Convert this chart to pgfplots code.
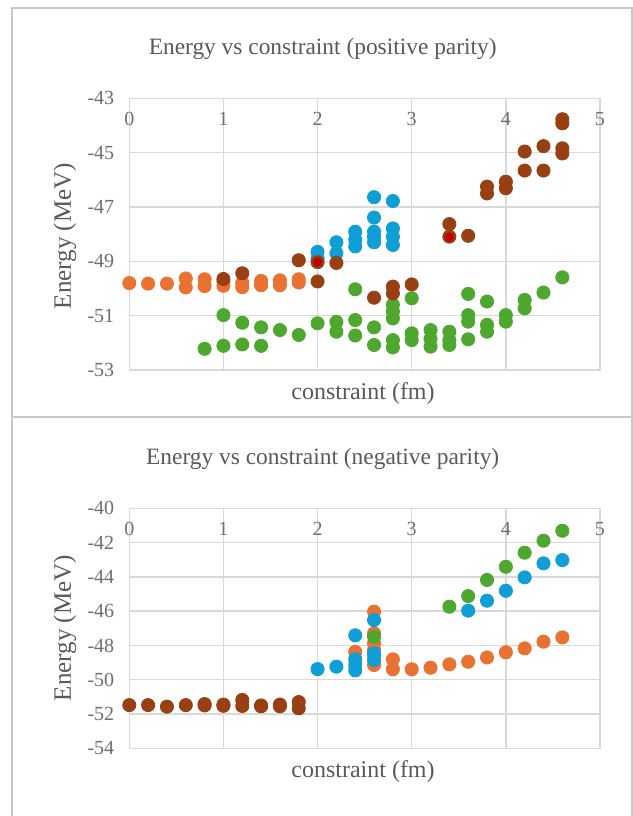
\documentclass[border=0pt]{standalone}
\usepackage{fontspec}
\setmainfont{Liberation Serif}
\usepackage{pgfplots}
\pgfplotsset{compat=1.18}

\definecolor{sorange}{HTML}{E97132}
\definecolor{sblue}{HTML}{0F9ED5}
\definecolor{sgreen}{HTML}{4EA72E}
\definecolor{sbrown}{HTML}{983F13}
\definecolor{sred}{HTML}{C00000}
\definecolor{gridgray}{HTML}{D9D9D9}
\definecolor{labelgray}{HTML}{595959}
\definecolor{ticklabelgray}{HTML}{6E6E6E}
\definecolor{framegray}{HTML}{C8C8C8}

\pgfplotsset{
  energy/.style={
    scale only axis,
    width=235.35pt,
    xmin=0, xmax=5,
    xtick={0,1,2,3,4,5},
    xticklabel pos=upper,
    major tick length=0pt,
    grid=major,
    grid style={draw=gridgray, line width=0.75pt},
    axis line style={draw=gridgray, line width=0.75pt},
    ticklabel style={font=\fontsize{10}{11}\selectfont, text=ticklabelgray},
    xticklabel style={anchor=center, yshift=-10.5pt},
    yticklabel style={xshift=-4pt},
    /pgf/number format/assume math mode=true,
  },
  dots/.style={only marks, mark=*, mark size=3.3pt, color=#1,
    mark options={draw=#1, fill=#1, line width=0.4pt}},
}

\begin{document}
\begin{tikzpicture}
% page area
\path[use as bounding box] (0pt,0pt) rectangle (316.5pt,-408pt);
% chart frames
\draw[framegray, line width=1pt] (6pt,-408pt) -- (6pt,-4pt) -- (316pt,-4pt) -- (316pt,-408pt);
\draw[framegray, line width=1pt] (6pt,-208.5pt) -- (316pt,-208.5pt);

% ---------- positive parity ----------
\begin{axis}[energy, at={(64.65pt,-185pt)}, anchor=south west,
  height=135.85pt, ymin=-53, ymax=-43, ytick={-53,-51,-49,-47,-45,-43}]
\addplot[dots=sorange] table {
0 -49.8
0.2 -49.82
0.4 -49.82
0.6 -49.63
0.6 -49.96
0.8 -49.66
0.8 -49.91
1.0 -49.75
1.0 -49.9
1.2 -49.8
1.2 -49.95
1.4 -49.72
1.4 -49.88
1.6 -49.7
1.6 -49.88
1.8 -49.66
1.8 -49.78
};
\addplot[dots=sblue] table {
2.0 -48.65
2.0 -48.9
2.2 -48.3
2.2 -48.7
2.4 -47.91
2.4 -48.2
2.4 -48.45
2.6 -46.64
2.6 -47.39
2.6 -47.91
2.6 -48.1
2.6 -48.3
2.8 -46.78
2.8 -47.79
2.8 -48.09
2.8 -48.4
};
\addplot[dots=sgreen] table {
0.8 -52.22
1.0 -50.98
1.0 -52.11
1.2 -51.26
1.2 -52.06
1.4 -51.43
1.4 -52.11
1.6 -51.53
1.8 -51.71
2.0 -51.28
2.2 -51.23
2.2 -51.59
2.4 -50.03
2.4 -51.16
2.4 -51.73
2.6 -51.43
2.6 -52.08
2.8 -50.6
2.8 -50.85
2.8 -51.1
2.8 -51.9
2.8 -52.17
3.0 -50.36
3.0 -51.65
3.0 -51.9
3.2 -51.53
3.2 -51.85
3.2 -52.14
3.4 -51.59
3.4 -51.9
3.4 -52.08
3.6 -50.2
3.6 -50.98
3.6 -51.22
3.6 -51.87
3.8 -50.48
3.8 -51.34
3.8 -51.59
4.0 -50.98
4.0 -51.22
4.2 -50.42
4.2 -50.73
4.4 -50.15
4.6 -49.59
};
\addplot[dots=sbrown] table {
1.0 -49.65
1.2 -49.44
1.8 -48.96
2.0 -49.03
2.0 -49.74
2.2 -49.06
2.6 -50.34
2.8 -49.93
2.8 -50.18
3.0 -49.85
3.4 -47.63
3.4 -48.09
3.6 -48.06
3.8 -46.25
3.8 -46.5
4.0 -46.07
4.0 -46.31
4.2 -44.96
4.2 -45.66
4.4 -44.76
4.4 -45.66
4.6 -43.77
4.6 -43.92
4.6 -44.84
4.6 -45.03
};
\addplot[only marks, mark=*, mark size=2.1pt, color=sred] table {
2.0 -49.03
3.4 -48.11
};
\end{axis}

% ---------- negative parity ----------
\begin{axis}[energy, at={(64.65pt,-374.15pt)}, anchor=south west,
  height=120pt, ymin=-54, ymax=-40, ytick={-54,-52,-50,-48,-46,-44,-42,-40}]
\addplot[dots=sbrown] table {
0 -51.48
0.2 -51.48
0.4 -51.57
0.6 -51.48
0.8 -51.42
0.8 -51.5
1.0 -51.45
1.0 -51.52
1.2 -51.18
1.2 -51.53
1.4 -51.5
1.4 -51.55
1.6 -51.45
1.6 -51.55
1.8 -51.3
1.8 -51.67
};
\addplot[dots=sorange] table {
2.4 -48.37
2.6 -46.03
2.6 -47.29
2.6 -47.88
2.6 -48.26
2.6 -48.6
2.6 -49.14
2.8 -48.81
2.8 -49.39
3.0 -49.39
3.2 -49.3
3.4 -49.1
3.6 -48.95
3.8 -48.7
4.0 -48.4
4.2 -48.17
4.4 -47.78
4.6 -47.53
};
\addplot[dots=sgreen] table {
2.6 -47.49
3.4 -45.74
3.6 -45.12
3.8 -44.18
4.0 -43.41
4.2 -42.59
4.4 -41.89
4.6 -41.31
};
\addplot[dots=sblue] table {
2.0 -49.38
2.2 -49.24
2.4 -47.41
2.4 -48.8
2.4 -49.14
2.4 -49.45
2.6 -46.52
2.6 -48.46
2.6 -48.85
3.6 -45.97
3.8 -45.39
4.0 -44.81
4.2 -44.03
4.4 -43.21
4.6 -43.02
};
\end{axis}

% titles and axis labels
\begin{scope}[text=labelgray]
\node[font=\fontsize{11.7}{13}\selectfont] at (161.35pt,-24.5pt) {Energy vs constraint (positive parity)};
\node[font=\fontsize{11.7}{13}\selectfont] at (161.35pt,-229.5pt) {Energy vs constraint (negative parity)};
\node[font=\fontsize{12.5}{14}\selectfont, rotate=90] at (32.5pt,-118pt) {Energy (MeV)};
\node[font=\fontsize{12.5}{14}\selectfont, rotate=90] at (32.5pt,-314pt) {Energy (MeV)};
\node[font=\fontsize{12}{14}\selectfont] at (181.5pt,-197pt) {constraint (fm)};
\node[font=\fontsize{12}{14}\selectfont] at (181.5pt,-386pt) {constraint (fm)};
\end{scope}
\end{tikzpicture}
\end{document}
